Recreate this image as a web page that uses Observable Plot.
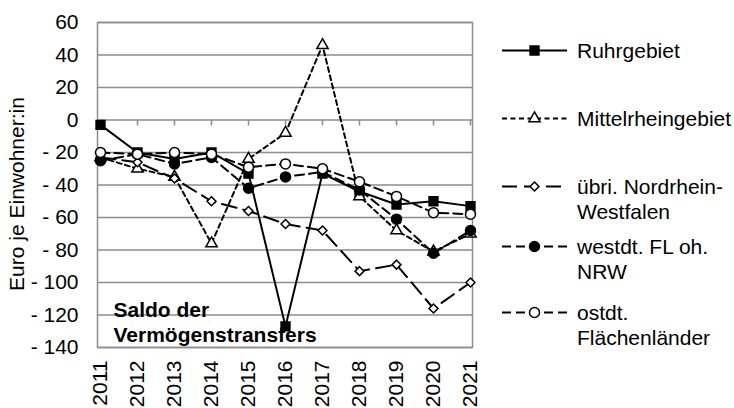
<!DOCTYPE html>
<html><head><meta charset="utf-8">
<script src="https://cdn.jsdelivr.net/npm/d3@7"></script>
<script src="https://cdn.jsdelivr.net/npm/@observablehq/plot@0.6"></script>
<style>
html,body{margin:0;padding:0;background:#fff;}
#wrap{position:relative;width:734px;height:408px;overflow:hidden;font-family:"Liberation Sans",Arial,sans-serif;background:#fff;}
#wrap svg{display:block;}
.topline{position:absolute;left:0;top:0;width:734px;height:2px;background:#000;}
.legend-item{position:absolute;left:500px;width:234px;}
.legend-text{position:absolute;left:77px;top:0;font-size:21px;line-height:25px;white-space:nowrap;color:#000;}
</style></head><body><div id="wrap"><div class="topline"></div></div>
<script>
// ---- data ----
const years = [2011, 2012, 2013, 2014, 2015, 2016, 2017, 2018, 2019, 2020, 2021];
const ruhrgebiet        = [-3, -20, -24, -20, -33, -127, -33, -44, -52, -50, -53];
const mittelrhein       = [-23, -30, -35, -76, -24, -8, 46, -47, -68, -81, -70];
const uebrigesNRW       = [-23, -26, -36, -50, -56, -64, -68, -93, -89, -116, -100];
const westdtFL          = [-25, -21, -27, -23, -42, -35, -32, -43, -61, -82, -68];
const ostdtFL           = [-20, -21, -20, -21, -29, -27, -30, -38, -47, -57, -58];
const seriesNames = ["Ruhrgebiet", "Mittelrheingebiet", "übri. Nordrhein-Westfalen", "westdt. FL oh. NRW", "ostdt. Flächenländer"];
const legendLabels = [["Ruhrgebiet"], ["Mittelrheingebiet"], ["übri. Nordrhein-", "Westfalen"], ["westdt. FL oh.", "NRW"], ["ostdt.", "Flächenländer"]];
const yTicks = [-140, -120, -100, -80, -60, -40, -20, 0, 20, 40, 60];
const yLabel = "Euro je Einwohner:in";
const annotation = "Saldo der\nVermögenstransfers";

// ---- styles ----
const seriesValues = [ruhrgebiet, mittelrhein, uebrigesNRW, westdtFL, ostdtFL];
const styles = [
  {dash: null,   symbol: "square",   d3sym: d3.symbolSquare,   r: 5.0, fill: "black"},
  {dash: "5,3.5", symbol: "triangle", d3sym: d3.symbolTriangle, r: 4.2, fill: "white"},
  {dash: "15,7", symbol: "diamond2", d3sym: d3.symbolDiamond2, r: 4.0, fill: "white"},
  {dash: "9,5",  symbol: "circle",   d3sym: d3.symbolCircle,   r: 5.0, fill: "black"},
  {dash: "9,5",  symbol: "circle",   d3sym: d3.symbolCircle,   r: 5.0, fill: "white"}
];
const legendCenters = [50, 118, 186, 246, 312];
const FONT = '"Liberation Sans", Arial, sans-serif';
const grid = "#8c8c8c";

const rows = seriesNames.map((name, s) => years.map((year, i) => ({series: name, year, value: seriesValues[s][i]})));

const marks = [
  Plot.gridY(yTicks, {stroke: grid, strokeOpacity: 1, strokeWidth: 1.5}),
  Plot.frame({stroke: grid, strokeWidth: 1.5}),
  Plot.ruleX(years, {x: d => d, y1: 0, y2: 0, insetBottom: -6, stroke: grid, strokeWidth: 1.5}),
  Plot.axisY(yTicks, {tickSize: 0, tickPadding: 19, label: null, tickFormat: d => d < 0 ? "- " + Math.abs(d) : String(d)}),
  Plot.axisX({tickRotate: -90, tickSize: 0, tickPadding: 13, label: null, tickFormat: d => String(d)}),
  Plot.text([yLabel], {text: d => d, frameAnchor: "left", textAnchor: "middle", rotate: -90, dx: -80, dy: 9, fontSize: 21}),
  Plot.text([annotation], {text: d => d, frameAnchor: "bottom-left", textAnchor: "start", lineAnchor: "bottom", dx: 16, dy: -6, fontWeight: "bold", fontSize: 21, lineHeight: 1.19})
];
rows.forEach((data, s) => {
  const st = styles[s];
  marks.push(Plot.line(data, {x: "year", y: "value", stroke: "black", strokeWidth: 2, strokeDasharray: st.dash ?? undefined}));
  marks.push(Plot.dot(data, {x: "year", y: "value", symbol: () => st.symbol, r: st.r, fill: st.fill, stroke: "black", strokeWidth: 1.5}));
});

const chart = Plot.plot({
  width: 734, height: 408,
  marginLeft: 97, marginRight: 262, marginTop: 22, marginBottom: 61,
  style: {fontFamily: FONT, fontSize: "21px", color: "black", background: "white"},
  x: {type: "point", domain: years, padding: 0},
  y: {domain: [-140, 60]},
  symbol: {type: "identity"},
  marks
});
const wrap = document.getElementById("wrap");
chart.style.position = "absolute";
chart.style.left = "0px";
chart.style.top = "0px";
wrap.appendChild(chart);

// ---- legend ----
seriesNames.forEach((name, s) => {
  const st = styles[s];
  const item = document.createElement("div");
  item.className = "legend-item";
  item.style.top = (legendCenters[s] - 12.5) + "px";
  const svg = d3.create("svg").attr("width", 72).attr("height", 25)
    .style("position", "absolute").style("left", "0px").style("top", "0px");
  svg.append("line").attr("x1", 2).attr("x2", 67).attr("y1", 12.5).attr("y2", 12.5)
    .attr("stroke", "black").attr("stroke-width", 2).attr("stroke-dasharray", st.dash);
  svg.append("path").attr("d", d3.symbol(st.d3sym, Math.PI * st.r * st.r)())
    .attr("transform", "translate(34.5,12.5)").attr("fill", st.fill).attr("stroke", "black").attr("stroke-width", 1.5);
  item.appendChild(svg.node());
  const txt = document.createElement("div");
  txt.className = "legend-text";
  txt.innerHTML = legendLabels[s].join("<br>");
  item.appendChild(txt);
  wrap.appendChild(item);
});
</script></body></html>
